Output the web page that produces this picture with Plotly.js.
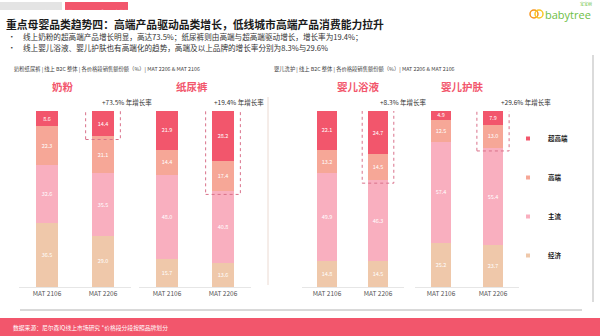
<!DOCTYPE html>
<html><head><meta charset="utf-8">
<script src="https://cdn.plot.ly/plotly-3.0.1.min.js"></script>
<style>html,body{margin:0;padding:0;background:#fff}#c{width:600px;height:336px}</style>
</head><body><div id="c"></div>
<script>
const panels = ['奶粉', '纸尿裤', '婴儿浴液', '婴儿护肤'];
const periods = ['MAT 2106', 'MAT 2206'];
const seriesNames = ['经济', '主流', '高端', '超高端'];
const economy      = [36.5, 29.0, 15.7, 13.6, 14.8, 14.5, 25.2, 23.7];
const mainstream   = [32.6, 35.5, 48.0, 40.8, 49.9, 46.3, 57.4, 55.4];
const premium      = [22.3, 21.1, 14.4, 17.4, 13.2, 14.5, 12.5, 13.0];
const superPremium = [8.6, 14.4, 21.9, 28.2, 22.1, 24.7, 4.9, 7.9];
const growth = ['+73.5%', '+19.4%', '+8.3%', '+29.6%'];
const boxSegments = [1, 2, 2, 2];
const subtitles = ['奶粉纸尿裤 | 线上 B2C 整体 | 各价格段销售额份额（%）| MAT 2206 & MAT 2106',
                   '婴儿洗护 | 线上 B2C 整体 | 各价格段销售额份额（%）| MAT 2206 & MAT 2106'];

const colors = ['#EFC8AA', '#F9AFBF', '#F6A797', '#F2566C'];
const seriesData = [economy, mainstream, premium, superPremium];
const F = '"Noto Sans CJK SC", "Noto Sans", sans-serif';
const W = 600, H = 336;
const px = x => x / W, py = y => 1 - y / H;

const dom = [[19, 131], [139, 251], [301.5, 403.5], [415, 519]];
const growthX = [127, 239, 403, 526];
const titleX = [63, 192, 358, 463];

const traces = [];
panels.forEach((p, i) => {
  const ax = i === 0 ? 'x' : 'x' + (i + 1);
  seriesData.forEach((arr, s) => {
    traces.push({
      type: 'bar', x: periods, y: arr.slice(i * 2, i * 2 + 2),
      xaxis: ax, yaxis: 'y', name: seriesNames[s], showlegend: false,
      marker: {color: colors[s], line: {width: 0}}, width: 0.4,
      texttemplate: '%{y:.1f}', textposition: 'inside', insidetextanchor: 'middle',
      textangle: 0, constraintext: 'none',
      textfont: {color: '#ffffff', size: 5.5, family: F}, hoverinfo: 'skip'
    });
  });
});
[3, 2, 1, 0].forEach(s => {
  traces.push({type: 'scatter', mode: 'markers', x: [null], y: [null], xaxis: 'x', yaxis: 'y',
    name: '<b>' + seriesNames[s] + '</b>', legendgroup: 'g' + s, showlegend: true,
    marker: {symbol: 'square', size: 4, color: colors[s]}});
});

const layout = {
  width: W, height: H, margin: {l: 0, r: 0, t: 0, b: 0},
  paper_bgcolor: '#fff', plot_bgcolor: 'rgba(0,0,0,0)',
  barmode: 'stack', bargap: 0,
  font: {family: F, color: '#333'},
  yaxis: {range: [0, 100], domain: [py(287), py(111)], visible: false, fixedrange: true},
  showlegend: true,
  legend: {x: px(508), y: py(124), xanchor: 'left', yanchor: 'top', traceorder: 'grouped',
    tracegroupgap: 20, font: {size: 6.5, color: '#222', family: F}, bgcolor: 'rgba(0,0,0,0)', itemwidth: 30},
  shapes: [], annotations: []
};
panels.forEach((p, i) => {
  const key = i === 0 ? 'xaxis' : 'xaxis' + (i + 1);
  layout[key] = {domain: [px(dom[i][0]), px(dom[i][1])], anchor: 'y', type: 'category',
    range: [-0.5, 1.5], showline: true, linecolor: '#e6e6e6', linewidth: 1, ticks: '',
    showgrid: false, zeroline: false, tickfont: {size: 6.5, color: '#555', family: F}};
  const ax = i === 0 ? 'x' : 'x' + (i + 1);
  let topSum = superPremium[i * 2 + 1];
  if (boxSegments[i] > 1) topSum += premium[i * 2 + 1];
  layout.shapes.push({type: 'rect', xref: ax, yref: 'y', x0: 0.69, x1: 1.31, y0: 100 - topSum - 1.8, y1: 102.5,
    line: {color: '#D9718A', width: 1, dash: 'dot'}, fillcolor: 'rgba(0,0,0,0)'});
  layout.annotations.push({xref: 'paper', yref: 'paper', x: px(growthX[i]), y: py(102), xanchor: 'center', yanchor: 'middle',
    text: growth[i] + ' 年增长率', showarrow: false, font: {size: 6.5, color: '#333', family: F}});
  layout.annotations.push({xref: 'paper', yref: 'paper', x: px(titleX[i]), y: py(86), xanchor: 'center', yanchor: 'middle',
    text: '<b>' + p + '</b>', showarrow: false, font: {size: 10.5, color: '#F2566C', family: F}});
});

layout.shapes.push(
  {type: 'rect', xref: 'paper', yref: 'paper', x0: px(0), x1: px(62), y0: py(10), y1: py(2), fillcolor: '#E4E4E4', line: {width: 0}},
  {type: 'rect', xref: 'paper', yref: 'paper', x0: px(65), x1: px(128), y0: py(10), y1: py(2), fillcolor: '#F2566C', line: {width: 0}},
  {type: 'line', xref: 'paper', yref: 'paper', x0: px(268), x1: px(268), y0: py(285), y1: py(97), line: {color: '#EBDAD2', width: 1}},
  {type: 'line', xref: 'paper', yref: 'paper', x0: px(593), x1: px(593), y0: py(302), y1: py(55), line: {color: '#CFCFCF', width: 1.5}},
  {type: 'line', xref: 'paper', yref: 'paper', x0: px(20), x1: px(582), y0: py(310), y1: py(310), line: {color: '#CDCDCD', width: 1.5}},
  {type: 'rect', xref: 'paper', yref: 'paper', x0: 0, x1: 1, y0: 0, y1: py(318), fillcolor: '#F2566C', line: {width: 0}},
  {type: 'circle', xref: 'paper', yref: 'paper', x0: px(530), x1: px(538), y0: py(18), y1: py(10), fillcolor: 'rgba(0,0,0,0)', line: {color: '#F7941D', width: 1.5}},
  {type: 'circle', xref: 'paper', yref: 'paper', x0: px(535), x1: px(543), y0: py(18), y1: py(10), fillcolor: 'rgba(0,0,0,0)', line: {color: '#F9C623', width: 1.5}}
);
layout.annotations.push(
  {xref: 'paper', yref: 'paper', x: px(31), y: py(6), text: '母婴市场宏观趋势', showarrow: false, font: {size: 5, color: '#fff', family: F}},
  {xref: 'paper', yref: 'paper', x: px(96.5), y: py(6), text: '重点品类趋势分析', showarrow: false, font: {size: 5, color: '#fff', family: F}},
  {xref: 'paper', yref: 'paper', x: px(4), y: py(24), xanchor: 'left', yanchor: 'middle', showarrow: false,
   text: '<b>重点母婴品类趋势四：高端产品驱动品类增长，低线城市高端产品消费能力拉升</b>', font: {size: 10.8, color: '#1a1a1a', family: F}},
  {xref: 'paper', yref: 'paper', x: px(6), y: py(36.5), xanchor: 'left', yanchor: 'middle', showarrow: false, text: '•', font: {size: 7.5, color: '#333', family: F}},
  {xref: 'paper', yref: 'paper', x: px(6), y: py(48), xanchor: 'left', yanchor: 'middle', showarrow: false, text: '•', font: {size: 7.5, color: '#333', family: F}},
  {xref: 'paper', yref: 'paper', x: px(21), y: py(36.5), xanchor: 'left', yanchor: 'middle', showarrow: false,
   text: '线上奶粉的超高端产品增长明显，高达73.5%；纸尿裤则由高端与超高端驱动增长，增长率为19.4%；', font: {size: 7.6, color: '#333', family: F}},
  {xref: 'paper', yref: 'paper', x: px(21), y: py(48), xanchor: 'left', yanchor: 'middle', showarrow: false,
   text: '线上婴儿浴液、婴儿护肤也有高端化的趋势，高端及以上品牌的增长率分别为8.3%与29.6%', font: {size: 7.6, color: '#333', family: F}},
  {xref: 'paper', yref: 'paper', x: px(12), y: py(68.5), xanchor: 'left', yanchor: 'middle', showarrow: false,
   text: subtitles[0], font: {size: 5.3, color: '#444', family: F}},
  {xref: 'paper', yref: 'paper', x: px(272), y: py(68.5), xanchor: 'left', yanchor: 'middle', showarrow: false,
   text: subtitles[1], font: {size: 5.3, color: '#444', family: F}},
  {xref: 'paper', yref: 'paper', x: px(11), y: py(327), xanchor: 'left', yanchor: 'middle', showarrow: false,
   text: '数据来源：尼尔森IQ线上市场研究 *价格段分段按照品牌划分', font: {size: 5.8, color: '#fff', family: F}},
  {xref: 'paper', yref: 'paper', x: px(543), y: py(15), xanchor: 'left', yanchor: 'middle', showarrow: false,
   text: 'babytree', font: {size: 11, color: '#6DBE45', family: '"Open Sans", sans-serif'}},
  {xref: 'paper', yref: 'paper', x: px(594), y: py(4.5), xanchor: 'right', yanchor: 'middle', showarrow: false,
   text: '宝宝树', font: {size: 4, color: '#6DBE45', family: F}}
);

Plotly.newPlot('c', traces, layout, {displayModeBar: false, staticPlot: true});
</script></body></html>
